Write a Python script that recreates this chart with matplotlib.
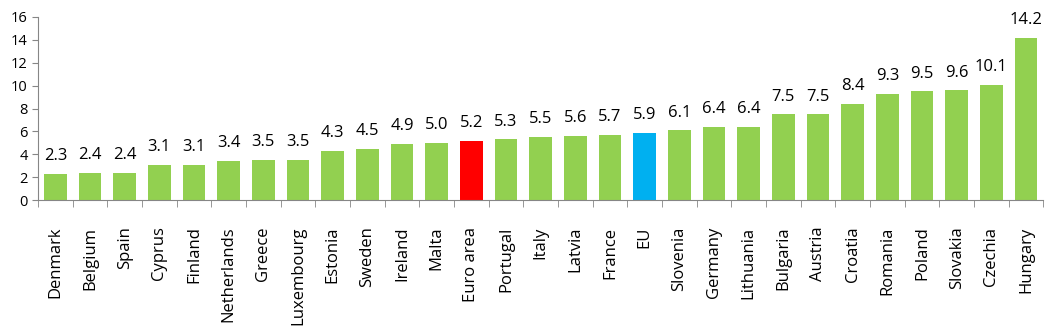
import numpy as np
import matplotlib.pyplot as plt

countries = ['Denmark', 'Belgium', 'Spain', 'Cyprus', 'Finland', 'Netherlands', 'Greece',
             'Luxembourg', 'Estonia', 'Sweden', 'Ireland', 'Malta', 'Euro area', 'Portugal',
             'Italy', 'Latvia', 'France', 'EU', 'Slovenia', 'Germany', 'Lithuania', 'Bulgaria',
             'Austria', 'Croatia', 'Romania', 'Poland', 'Slovakia', 'Czechia', 'Hungary']
values = [2.3, 2.4, 2.4, 3.1, 3.1, 3.4, 3.5, 3.5, 4.3, 4.5, 4.9, 5.0, 5.2, 5.3,
          5.5, 5.6, 5.7, 5.9, 6.1, 6.4, 6.4, 7.5, 7.5, 8.4, 9.3, 9.5, 9.6, 10.1, 14.2]

plt.rcParams['font.family'] = ['Open Sans', 'DejaVu Sans']

colors = []
for c in countries:
    if c == 'Euro area':
        colors.append('#FF0000')
    elif c == 'EU':
        colors.append('#00B0F0')
    else:
        colors.append('#92D050')

fig = plt.figure(figsize=(10.56, 3.33), dpi=100)
ax = fig.add_axes([0.036, 0.399, 0.952, 0.55])

x = np.arange(len(countries))
ax.bar(x, values, width=0.66, color=colors)
for xi, v in zip(x, values):
    ax.annotate('%.1f' % v, (xi, v), xytext=(0, 7), textcoords='offset points',
                ha='center', va='bottom', fontsize=12)

ax.set_xlim(-0.5, len(countries) - 0.5)
ax.set_ylim(0, 16)
ax.set_yticks(range(0, 17, 2))
ax.set_xticks(x)
ax.set_xticklabels(countries, rotation=90, fontsize=12)
ax.set_xticks(np.arange(-0.5, len(countries)), minor=True)
ax.tick_params(axis='x', which='major', length=0, pad=19)
ax.tick_params(axis='x', which='minor', length=5, color='#868686', direction='out')
ax.tick_params(axis='y', length=4, color='#868686', labelsize=10.5)

for side in ['top', 'right']:
    ax.spines[side].set_visible(False)
for side in ['left', 'bottom']:
    ax.spines[side].set_color('#868686')

fig.savefig('out.png', dpi=100)
